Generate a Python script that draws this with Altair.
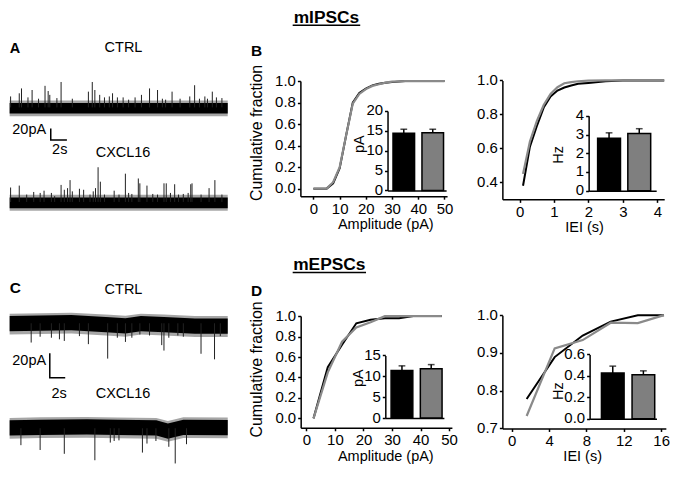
import altair as alt
import pandas as pd

# ---------------- layout helpers ----------------
S = 0.965          # reference-pixel -> chart-pixel factor
W, H = 662, 459
FONT = "Liberation Sans"
BLACK = "#000000"
GRAY_LINE = "#8a8a8a"
GRAY_BAR = "#7f7f7f"
GROUPS = ["CTRL", "CXCL16"]


def P(v):
    return round(v * S, 2)


# ---------------- data ----------------
# A: mIPSC traces (time s, event amplitude pA)
A_CTRL_T = [0.12, 1.19, 1.47, 2.27, 2.78, 3.58, 4.38, 4.77, 4.97, 5.85, 6.37, 7.76, 9.75, 10.23,
            10.55, 11.15, 11.74, 12.34, 12.74, 13.34, 14.05, 14.73, 15.53, 16.32, 17.32, 18.31,
            18.91, 19.31, 20.11, 21.10, 22.30, 22.90, 23.50, 24.17, 24.49, 25.09, 25.60, 26.28]
A_CTRL_PA = [19.4, 25.0, 33.6, 17.7, 30.8, 15.4, 38.2, 29.0, 22.2, 16.5, 45.0, 15.4, 27.9, 45.0,
             30.8, 22.2, 17.7, 19.4, 25.0, 17.7, 17.7, 13.7, 17.7, 22.2, 33.6, 30.8, 15.4, 13.7,
             27.9, 15.4, 19.4, 39.3, 15.4, 19.4, 15.4, 27.9, 17.7, 16.5]
A_CXCL_T = [0.12, 1.19, 2.11, 2.98, 3.78, 4.26, 5.17, 5.57, 6.37, 6.77, 7.17, 7.48, 7.76, 8.64,
            9.16, 9.95, 10.35, 10.63, 10.95, 11.23, 11.74, 12.94, 13.54, 14.33, 14.73, 15.13,
            15.93, 16.12, 17.00, 17.72, 18.31, 19.11, 19.39, 19.91, 20.43, 20.91, 21.50, 22.10,
            22.42, 22.58, 23.70, 24.69, 25.41, 26.28]
A_CXCL_PA = [25.6, 29.0, 13.1, 17.7, 16.0, 20.0, 16.0, 10.3, 30.2, 21.6, 24.5, 38.7, 18.8, 23.4,
             21.6, 13.1, 18.8, 24.5, 61.5, 35.9, 13.1, 20.0, 13.1, 50.1, 16.0, 14.2, 41.6, 33.0,
             29.0, 14.2, 13.1, 33.0, 33.0, 16.0, 31.4, 13.1, 14.2, 16.0, 31.4, 33.0, 13.1, 24.5,
             38.7, 13.1]
A_BASE_T = [0, 27]
A_BASE_PA = [0, 0]
A_CTRL_CORE, A_CTRL_EDGE = (-11.0, 8.0), (-15.5, 12.0)
A_CXCL_CORE, A_CXCL_EDGE = (-11.0, 8.0), (-15.5, 13.0)

# C: mEPSC traces (downward events)
C_CTRL_T = [2.79, 3.95, 5.41, 6.45, 7.08, 9.04, 10.20, 12.70, 13.95, 15.00, 15.83, 16.87, 18.12,
            19.70, 19.99, 20.62, 21.79, 22.50, 24.79, 26.54, 27.29]
C_CTRL_PA = [-15.6, -10.9, -11.7, -13.0, -14.3, -10.4, -16.9, -28.6, -11.7, -15.1, -11.7, -9.1,
             -9.9, -17.7, -22.1, -11.7, -9.9, -10.9, -24.7, -29.2, -10.4]
C_CXCL_T = [1.46, 3.95, 7.08, 11.04, 13.04, 13.54, 14.16, 17.20, 17.79, 18.95, 20.62, 21.45, 22.91]
C_CXCL_PA = [-13.7, -17.6, -20.7, -25.9, -11.6, -10.3, -9.8, -19.7, -12.4, -10.3, -15.0, -28.5,
             -12.9]
C_CTRL_BASE_T = [0, 8, 13, 15, 17, 20, 24, 28.25]
C_CTRL_BASE_PA = [0, 0.8, -1, -1.8, 0, -0.8, -2, -2]
C_CXCL_BASE_T = [0, 4, 10, 14, 19, 20.5, 22.5, 28.25]
C_CXCL_BASE_PA = [0, 0.5, 0.8, 0.4, 0, -2.5, 0.5, 0.3]
C_CTRL_CORE, C_CTRL_EDGE = (-6.5, 5.8), (-9.1, 7.8)
C_CXCL_CORE, C_CXCL_EDGE = (-5.9, 6.4), (-8.4, 8.4)

SCALEBAR_PA = 20
SCALEBAR_S = 2

# B: mIPSC cumulative distributions
B_AMP_X = [0, 2.5, 5, 7.5, 10, 12.5, 15, 17.5, 20, 22.5, 25, 27.5, 30, 35, 40, 45, 50]
B_AMP_CTRL = [0, 0, 0, 0.05, 0.19, 0.50, 0.80, 0.89, 0.93, 0.96, 0.975, 0.985, 0.99, 1, 1, 1, 1]
B_AMP_CXCL = [0, 0, 0, 0.06, 0.20, 0.50, 0.79, 0.88, 0.925, 0.955, 0.97, 0.985, 0.995, 1, 1, 1, 1]
B_IEI_X = [0.1, 0.3, 0.5, 0.7, 0.9, 1.1, 1.3, 1.5, 1.7, 2.0, 2.5, 3.0, 4.2]
B_IEI_CTRL = [0.38, 0.61, 0.73, 0.84, 0.905, 0.94, 0.958, 0.97, 0.98, 0.985, 0.995, 1.0, 1.0]
B_IEI_CXCL = [0.45, 0.64, 0.76, 0.855, 0.92, 0.96, 0.983, 0.99, 0.995, 0.998, 1.0, 1.0, 1.0]
B_AMP_MEAN, B_AMP_SEM = [14.4, 14.5], [1.0, 0.9]
B_FREQ_MEAN, B_FREQ_SEM = [2.8, 3.06], [0.29, 0.25]

# D: mEPSC cumulative distributions
D_AMP_X = [2.5, 7.5, 12.5, 17.5, 22.5, 27.5, 32.5, 37.5, 42.5, 47.5]
D_AMP_CTRL = [0.0, 0.50, 0.72, 0.93, 0.965, 0.98, 0.98, 1.0, 1.0, 1.0]
D_AMP_CXCL = [0.0, 0.45, 0.75, 0.89, 0.94, 1.0, 1.0, 1.0, 1.0, 1.0]
D_IEI_X = [1.6, 4.6, 7.6, 10.6, 13.5, 16.3]
D_IEI_CTRL = [0.778, 0.889, 0.946, 0.983, 1.0, 1.0]
D_IEI_CXCL = [0.733, 0.912, 0.934, 0.98, 0.979, 1.0]
D_AMP_MEAN, D_AMP_SEM = [11.4, 11.8], [1.1, 1.0]
D_FREQ_MEAN, D_FREQ_SEM = [0.426, 0.411], [0.065, 0.036]

AMP_TICKS = [0, 10, 20, 30, 40, 50]
FRAC_TICKS = [0, 0.2, 0.4, 0.6, 0.8, 1.0]
B_IEI_XTICKS = [0, 1, 2, 3, 4]
B_IEI_YTICKS = [0.4, 0.6, 0.8, 1.0]
D_IEI_XTICKS = [0, 4, 8, 12, 16]
D_IEI_YTICKS = [0.7, 0.8, 0.9, 1.0]
B_AMP_INSET_TICKS = [0, 5, 10, 15, 20]
B_FREQ_INSET_TICKS = [0, 1, 2, 3, 4]
D_AMP_INSET_TICKS = [0, 5, 10, 15]
D_FREQ_INSET_TICKS = [0, 0.2, 0.4, 0.6]

ONE = pd.DataFrame({"k": [0]})


# ---------------- builders ----------------
def lin(dom, r0, r1):
    return alt.Scale(domain=dom, range=[P(r0), P(r1)], nice=False, zero=False)


def trace(spk_t, spk_a, base_t, base_a, core, edge, xdom, x0, x1, ydom, base_px, ppa, scalebar=None):
    xs = lin(xdom, x0, x1)
    ys = lin(ydom, base_px - ydom[0] * ppa, base_px - ydom[1] * ppa)
    band = pd.DataFrame({"t": base_t, "b": base_a})
    band["clo"] = band.b + core[0]
    band["chi"] = band.b + core[1]
    band["elo"] = band.b + edge[0]
    band["ehi"] = band.b + edge[1]
    X = alt.X("t:Q", scale=xs, axis=None)
    out = [
        alt.Chart(band).mark_area(color=BLACK, opacity=0.35).encode(
            x=X, y=alt.Y("elo:Q", scale=ys, axis=None), y2="ehi:Q"),
        alt.Chart(band).mark_area(color=BLACK).encode(
            x=X, y=alt.Y("clo:Q", scale=ys, axis=None), y2="chi:Q"),
    ]
    spk = pd.DataFrame({"t": spk_t, "a": spk_a, "z": [0] * len(spk_t)})
    out.append(alt.Chart(spk).mark_rule(color="#222222", strokeWidth=1).encode(
        x=X, y=alt.Y("z:Q", scale=ys, axis=None), y2="a:Q"))
    if scalebar:
        t0, y0 = scalebar
        sb = pd.DataFrame({"t": [t0, t0, t0 + SCALEBAR_S],
                           "y": [y0 + SCALEBAR_PA, y0, y0], "i": [0, 1, 2]})
        out.append(alt.Chart(sb).mark_line(color=BLACK, strokeWidth=1.5).encode(
            x=X, y=alt.Y("y:Q", scale=ys, axis=None), order="i:Q"))
    return out


def cumulative(xv, ctrl, cxcl, xdom, xr, ydom, yr, xticks, yticks, xtitle, xtitle_cx,
               ytitle=None, ytitle_cx=None, ytitle_cy=None):
    xs = lin(xdom, xr[0], xr[1])
    ys = lin(ydom, yr[0], yr[1])
    xaxis = alt.Axis(orient="bottom", offset=round(P(yr[0]) - H, 2), values=xticks,
                     title=xtitle, titleX=P(xtitle_cx), titleY=P(33.5),
                     titleBaseline="alphabetic", titleAlign="center")
    ykw = dict(orient="left", offset=-P(xr[0]), values=yticks, format=".1f")
    if ytitle:
        ykw.update(title=ytitle, titleX=P(ytitle_cx - xr[0]), titleY=P(ytitle_cy),
                   titleBaseline="middle", titleAlign="center", titleFontSize=16.5 * S)
    else:
        ykw.update(title="")
    yaxis = alt.Axis(**ykw)
    d1 = pd.DataFrame({"x": xv, "y": ctrl})
    d2 = pd.DataFrame({"x": xv, "y": cxcl})
    return [
        alt.Chart(d1).mark_line(color=BLACK, strokeWidth=2).encode(
            x=alt.X("x:Q", scale=xs, axis=xaxis), y=alt.Y("y:Q", scale=ys, axis=yaxis)),
        alt.Chart(d2).mark_line(color=GRAY_LINE, strokeWidth=2.2).encode(
            x=alt.X("x:Q", scale=xs, axis=None), y=alt.Y("y:Q", scale=ys, axis=None)),
    ]


def inset(mean, sem, ydom, yr, ax_x, x_end, pi, po, al, yticks, yfmt, ytitle, t_cx, t_cy):
    df = pd.DataFrame({"group": GROUPS, "val": mean,
                       "hi": [m + s for m, s in zip(mean, sem)]})
    xs = alt.Scale(domain=GROUPS, range=[P(ax_x), P(x_end)], paddingInner=pi,
                   paddingOuter=po, align=al)
    ys = lin(ydom, yr[0], yr[1])
    xaxis = alt.Axis(orient="bottom", offset=round(P(yr[0]) - H, 2), labels=False,
                     ticks=False, title="", domain=True)
    yaxis = alt.Axis(orient="left", offset=-P(ax_x), values=yticks, format=yfmt,
                     title=ytitle, titleX=P(t_cx - ax_x), titleY=P(t_cy),
                     titleBaseline="middle", titleAlign="center")
    return [
        alt.Chart(df).mark_bar(stroke=BLACK, strokeWidth=1.5).encode(
            x=alt.X("group:N", scale=xs, axis=xaxis),
            y=alt.Y("val:Q", scale=ys, axis=yaxis),
            color=alt.Color("group:N", scale=alt.Scale(domain=GROUPS, range=[BLACK, GRAY_BAR]),
                            legend=None)),
        alt.Chart(df).mark_rule(color=BLACK, strokeWidth=1.5).encode(
            x=alt.X("group:N", scale=xs, axis=None),
            y=alt.Y("val:Q", scale=ys, axis=None), y2="hi:Q"),
        alt.Chart(df).mark_tick(color=BLACK, thickness=1.5, size=7 * S).encode(
            x=alt.X("group:N", scale=xs, axis=None),
            y=alt.Y("hi:Q", scale=ys, axis=None)),
    ]


def label(text, x, y, size=15, bold=False, align="center"):
    return alt.Chart(ONE).mark_text(
        text=text, font=FONT, fontSize=size * S, fontWeight="bold" if bold else "normal",
        align=align, baseline="alphabetic", color=BLACK
    ).encode(x=alt.value(P(x)), y=alt.value(P(y)))


def underline(x1, x2, y):
    return alt.Chart(ONE).mark_rule(color=BLACK, strokeWidth=1.5).encode(
        x=alt.value(P(x1)), x2=alt.value(P(x2)), y=alt.value(P(y)))


# ---------------- assemble ----------------
layers = []
# traces
layers += trace(A_CTRL_T, A_CTRL_PA, A_BASE_T, A_BASE_PA, A_CTRL_CORE, A_CTRL_EDGE,
                [0, 27], 1.7, 227.7, [-60, 50], 103, 0.585, scalebar=(5.09, -57.6))
layers += trace(A_CXCL_T, A_CXCL_PA, A_BASE_T, A_BASE_PA, A_CXCL_CORE, A_CXCL_EDGE,
                [0, 27], 1.7, 227.7, [-20, 65], 201, 0.585)
layers += trace(C_CTRL_T, C_CTRL_PA, C_CTRL_BASE_T, C_CTRL_BASE_PA, C_CTRL_CORE, C_CTRL_EDGE,
                [0, 28.25], 1.7, 227.7, [-50, 15], 326.7, 1.28, scalebar=(5.2, -44.2))
layers += trace(C_CXCL_T, C_CXCL_PA, C_CXCL_BASE_T, C_CXCL_BASE_PA, C_CXCL_CORE, C_CXCL_EDGE,
                [0, 28.25], 1.7, 227.7, [-35, 15], 435.5, 1.28)

# cumulative plots
layers += cumulative(B_AMP_X, B_AMP_CTRL, B_AMP_CXCL, [-5, 51], (303, 455), [-0.07, 1.0],
                     (195, 75.7), AMP_TICKS, FRAC_TICKS, "Amplitude (pA)", 391,
                     "Cumulative fraction", 258, 129)
layers += cumulative(B_IEI_X, B_IEI_CTRL, B_IEI_CXCL, [-0.5, 4.2], (512.3, 680), [0.3, 1.0],
                     (198.3, 75), B_IEI_XTICKS, B_IEI_YTICKS, "IEI (s)", 597)
layers += cumulative(D_AMP_X, D_AMP_CTRL, D_AMP_CXCL, [-2, 51], (303.3, 460), [-0.092, 1.0],
                     (435, 319.3), AMP_TICKS, FRAC_TICKS, "Amplitude (pA)", 391,
                     "Cumulative fraction", 258, 374)
layers += cumulative(D_IEI_X, D_IEI_CTRL, D_IEI_CXCL, [-1, 16.5], (512.3, 681.7), [0.7, 1.0],
                     (435.7, 318.3), D_IEI_XTICKS, D_IEI_YTICKS, "IEI (s)", 595)

# insets
layers += inset(B_AMP_MEAN, B_AMP_SEM, [0, 20], (189, 106.7), 393.3, 454, 0.255, 0.139, 0.68,
                B_AMP_INSET_TICKS, "d", "pA", 364, 140.7)
layers += inset(B_FREQ_MEAN, B_FREQ_SEM, [0, 4], (189.3, 111.7), 601.7, 671.7, 0.243, 0.24, 0.62,
                B_FREQ_INSET_TICKS, "d", "Hz", 570, 151.7)
layers += inset(D_AMP_MEAN, D_AMP_SEM, [0, 15], (425, 360), 391, 451.7, 0.257, 0.13, 0.76,
                D_AMP_INSET_TICKS, "d", "pA", 363, 383)
layers += inset(D_FREQ_MEAN, D_FREQ_SEM, [0, 0.6], (425.7, 359), 602.7, 672, 0.26, 0.222, 0.87,
                D_FREQ_INSET_TICKS, ".1f", "Hz", 570.5, 396.5)

# texts
layers += [
    label("mIPSCs", 330, 15.5, 18, True), underline(295, 365, 17.8),
    label("mEPSCs", 333, 271.5, 18, True), underline(295, 371, 274),
    label("A", 1.7, 46.5, 15, True, "left"),
    label("B", 251.7, 50, 16, True, "left"),
    label("C", 1.7, 295, 16, True, "left"),
    label("D", 251.7, 298, 16, True, "left"),
    label("CTRL", 119.7, 46), label("CXCL16", 119.2, 154),
    label("20pA", 39.5, 131, 15, False, "right"), label("2s", 45.7, 151.7, 15, False, "left"),
    label("CTRL", 119.7, 296), label("CXCL16", 119.2, 404),
    label("20pA", 39.5, 370, 15, False, "right"), label("2s", 45, 404, 15, False, "left"),
]

chart = alt.layer(*layers).resolve_scale(x="independent", y="independent").properties(
    width=W, height=H, padding=0, autosize=alt.AutoSizeParams(type="none")
).configure_view(stroke=None).configure_axis(
    labelFont=FONT, labelFontSize=15.5 * S, labelColor=BLACK,
    titleFont=FONT, titleFontSize=15 * S, titleFontWeight="normal", titleColor=BLACK,
    domainColor=BLACK, domainWidth=1.5, tickColor=BLACK, tickWidth=1.5, tickSize=3,
    labelPadding=2, grid=False, labelFlush=False, labelOverlap=False, titlePadding=3
)

chart.save("out.html", embed_options={"renderer": "svg", "actions": False})
